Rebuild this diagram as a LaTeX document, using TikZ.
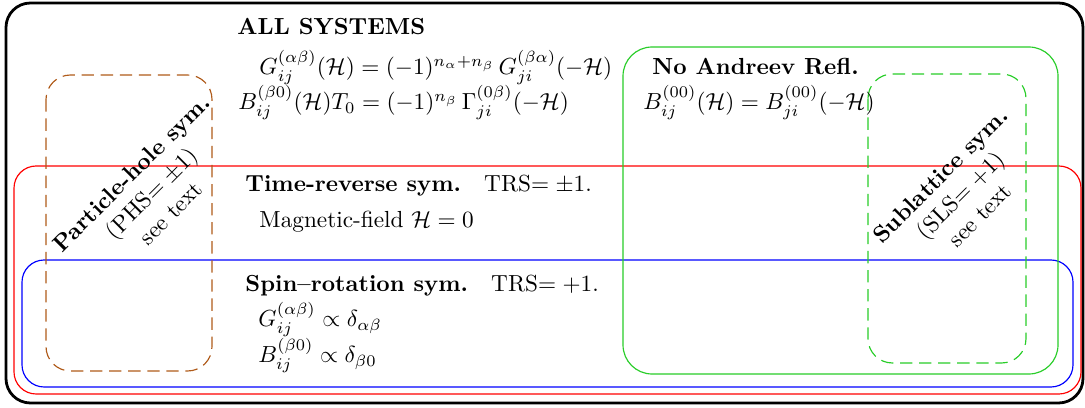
\documentclass[tikz,border=0pt]{standalone}
\usepackage{amsmath}
\definecolor{phsbrown}{RGB}{175,90,25}
\definecolor{lgreen}{RGB}{40,205,40}
\begin{document}
\begin{tikzpicture}[x=0.43pt,y=-0.43pt,
  txt/.style={anchor=base west,inner sep=0pt},
  region/.style={line width=0.5pt,rounded corners=#1},
  dsh/.style={dash pattern=on 5.3pt off 2.9pt}]
\useasboundingbox (0,0) rectangle (1085,408);
% region outlines
\draw[line width=1.2pt,rounded corners=10.5pt] (6,3) rectangle (1083,403);
\draw[region=9.5pt,red] (14,166) rectangle (1081,394);
\draw[region=9.5pt,blue] (22,260) rectangle (1073,387);
\draw[region=10.5pt,phsbrown,dsh] (46,75) rectangle (212,371);
\draw[region=12.5pt,lgreen] (623,47) rectangle (1058,374);
\draw[region=10.5pt,lgreen,dsh] (868,74) rectangle (1026,363);
% texts
\node[txt] (all) at (237,35) {\textbf{ALL SYSTEMS}};
\node[txt] (eqa) at (259,75) {$G^{(\alpha\beta)}_{ij}(\mathcal{H}) = (-1)^{n_\alpha+n_\beta}\, G^{(\beta\alpha)}_{ji}(-\mathcal{H})$};
\node[txt] (eqb) at (238,110) {$B^{(\beta0)}_{ij}(\mathcal{H})T_0 = (-1)^{n_\beta}\,\Gamma^{(0\beta)}_{ji}(-\mathcal{H})$};
\node[txt] (nar) at (652,75) {\textbf{No Andreev Refl.}};
\node[txt] (eqc) at (643,110) {$B^{(00)}_{ij}(\mathcal{H}) = B^{(00)}_{ji}(-\mathcal{H})$};
\node[txt] (trs) at (245,192) {\textbf{Time-reverse sym.}\quad TRS$=\pm1$.};
\node[txt] (mag) at (259,228) {Magnetic-field $\mathcal{H}=0$};
\node[txt] (srs) at (245,292) {\textbf{Spin--rotation sym.}\quad TRS$=+1$.};
\node[txt] (eqd) at (258,327) {$G^{(\alpha\beta)}_{ij}\propto\delta_{\alpha\beta}$};
\node[txt] (eqe) at (258,363) {$B^{(\beta0)}_{ij}\propto\delta_{\beta0}$};
\node[rotate=45,align=center,inner sep=0pt] (phs) at (151,193)
  {\textbf{Particle-hole sym.}\\(PHS$=\pm1$)\\see text};
\node[rotate=45,align=center,inner sep=0pt] (sls) at (960,195)
  {\textbf{Sublattice sym.}\\(SLS$=+1$)\\see text};
\end{tikzpicture}
\end{document}
